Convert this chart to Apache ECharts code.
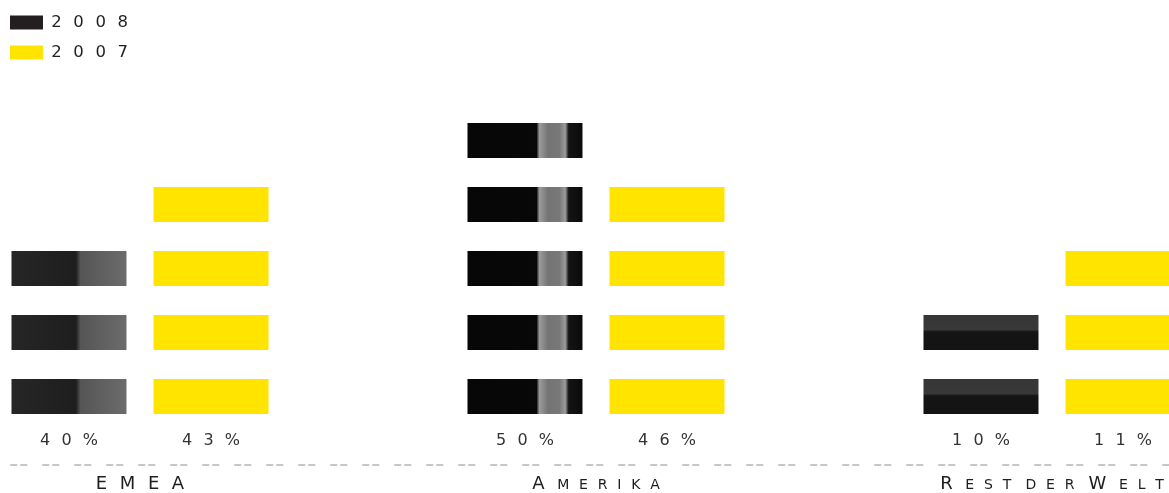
<!DOCTYPE html>
<html>
<head>
<meta charset="utf-8">
<script src="https://cdn.jsdelivr.net/npm/echarts@6/dist/echarts.min.js"></script>
<style>
html,body{margin:0;padding:0;background:#fff;}
#chart{width:1169px;height:493px;}
</style>
</head>
<body>
<div id="chart"></div>
<script>
// ---- data ----
const categories = ['EMEA', 'Amerika', 'Rest der Welt'];
const seriesNames = ['2008', '2007'];
const blocks2008 = [3, 5, 2];      // number of stacked blocks drawn
const blocks2007 = [4, 4, 3];
const pct2008 = ['40%', '50%', '10%'];
const pct2007 = ['43%', '46%', '11%'];

// ---- helpers (layout / style only) ----
const SEP = '\u2002\u2009';
function spaced(s) { return s.split('').join(SEP); }
function smallCaps(label) {
  return label.split(' ').map(function (w) {
    const chars = w.split('');
    return chars.map(function (c, i) {
      const big = c === c.toUpperCase();
      const tail = i < chars.length - 1 ? SEP : '';
      return '{' + (big ? 'b' : 's') + '|' + c.toUpperCase() + tail + '}';
    }).join('');
  }).join('{s| ' + SEP + '}');
}
function hGrad(stops) {
  return { type: 'linear', x: 0, y: 0, x2: 1, y2: 0,
    colorStops: stops.map(function (s) { return { offset: s[0], color: s[1] }; }) };
}
function vGrad(stops) {
  return { type: 'linear', x: 0, y: 0, x2: 0, y2: 1,
    colorStops: stops.map(function (s) { return { offset: s[0], color: s[1] }; }) };
}
const textures2008 = [
  hGrad([[0, '#262626'], [0.56, '#1e1e1e'], [0.6, '#555555'], [1, '#6c6c6c']]),
  hGrad([[0, '#060606'], [0.6, '#080808'], [0.625, '#9a9a9a'], [0.66, '#8a8a8a'], [0.7, '#747474'],
         [0.8, '#787878'], [0.85, '#9c9c9c'], [0.88, '#141414'], [1, '#0a0a0a']]),
  vGrad([[0, '#363636'], [0.42, '#383838'], [0.48, '#151515'], [1, '#131313']])
];
const DARK = '#231f20';
const YELLOW = '#ffe400';

const chart = echarts.init(document.getElementById('chart'));
chart.setOption({
  animation: false,
  backgroundColor: '#ffffff',
  legend: {
    orient: 'vertical',
    left: 10,
    top: 14,
    padding: 0,
    itemWidth: 33,
    itemHeight: 14,
    itemGap: 13,
    icon: 'rect',
    data: seriesNames,
    formatter: function (n) { return '\u2009' + spaced(n); },
    textStyle: { fontFamily: 'DejaVu Sans', fontSize: 16.5, color: DARK }
  },
  grid: { left: -88, width: 1368, top: 108.5, bottom: 64.5, containLabel: false, outerBoundsMode: 'none' },
  xAxis: {
    type: 'category',
    data: categories,
    offset: 36.5,
    axisTick: { show: false },
    axisLine: {
      show: true,
      onZero: false,
      lineStyle: { color: '#c6c6c6', width: 2, type: [5.5, 4.5, 5.5, 16.5], dashOffset: 29 }
    },
    axisLabel: {
      interval: 0,
      hideOverlap: false,
      margin: 9,
      formatter: function (v) { return smallCaps(v); },
      rich: {
        b: { fontFamily: 'DejaVu Sans', fontSize: 18, lineHeight: 20, color: '#1e1e1e' },
        s: { fontFamily: 'DejaVu Sans', fontSize: 14, lineHeight: 20, padding: [2, 0, 0, 0], color: '#1e1e1e' }
      }
    }
  },
  yAxis: { type: 'value', min: 0, max: 5, show: false, splitLine: { show: false } },
  series: [
    {
      name: seriesNames[0],
      type: 'pictorialBar',
      symbol: 'rect',
      symbolSize: [115, 35],
      symbolRepeat: true,
      symbolMargin: '14.5!',
      barWidth: 115,
      barGap: '23.5%',
      itemStyle: { color: DARK },
      label: {
        show: true,
        position: 'bottom',
        distance: 4,
        fontFamily: 'DejaVu Sans',
        fontSize: 16,
        color: '#333333',
        formatter: function (p) { return spaced(pct2008[p.dataIndex]); }
      },
      data: blocks2008.map(function (v, i) {
        return { value: v, itemStyle: { color: textures2008[i] } };
      })
    },
    {
      name: seriesNames[1],
      type: 'pictorialBar',
      symbol: 'rect',
      symbolSize: [115, 35],
      symbolRepeat: true,
      symbolMargin: '14.5!',
      barWidth: 115,
      barGap: '23.5%',
      itemStyle: { color: YELLOW },
      label: {
        show: true,
        position: 'bottom',
        distance: 4,
        fontFamily: 'DejaVu Sans',
        fontSize: 16,
        color: '#333333',
        formatter: function (p) { return spaced(pct2007[p.dataIndex]); }
      },
      data: blocks2007
    }
  ]
});
</script>
</body>
</html>
